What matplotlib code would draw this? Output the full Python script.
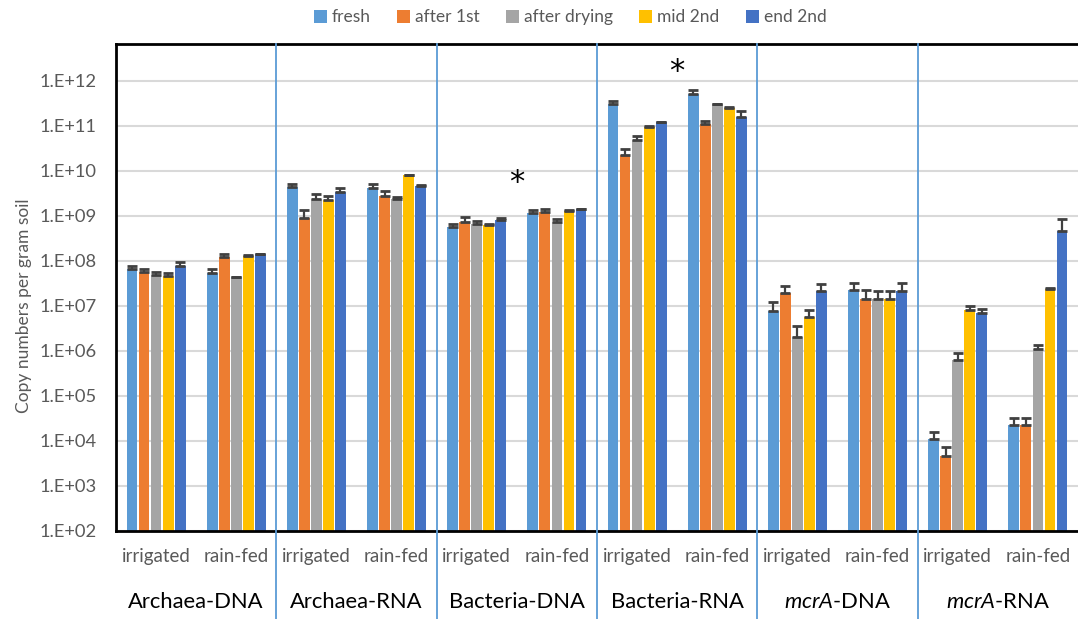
import matplotlib.pyplot as plt
import matplotlib.transforms as mtransforms
import numpy as np

plt.rcParams['font.family'] = ['Lato', 'DejaVu Sans']
plt.rcParams['mathtext.fontset'] = 'custom'
plt.rcParams['mathtext.rm'] = 'Lato'
plt.rcParams['mathtext.it'] = 'Lato:italic'

# series (sampling time points)
series = ['fresh', 'after 1st', 'after drying', 'mid 2nd', 'end 2nd']
colors = ['#5B9BD5', '#ED7D31', '#A5A5A5', '#FFC000', '#4472C4']

groups = ['Archaea-DNA', 'Archaea-RNA', 'Bacteria-DNA', 'Bacteria-RNA',
          r'$\mathit{mcrA}$-DNA', r'$\mathit{mcrA}$-RNA']
sites = ['irrigated', 'rain-fed']

# copy numbers per gram soil, one row per cluster (group x site), columns = series
values = np.array([
    [6.6e7, 5.6e7, 4.9e7, 4.7e7, 7.9e7],      # Archaea-DNA irrigated
    [5.4e7, 1.2e8, 4.3e7, 1.26e8, 1.4e8],     # Archaea-DNA rain-fed
    [4.3e9, 9.2e8, 2.4e9, 2.3e9, 3.4e9],      # Archaea-RNA irrigated
    [4.1e9, 2.8e9, 2.4e9, 8.0e9, 4.6e9],      # Archaea-RNA rain-fed
    [5.7e8, 7.4e8, 6.6e8, 6.3e8, 8.0e8],      # Bacteria-DNA irrigated
    [1.15e9, 1.2e9, 7.4e8, 1.27e9, 1.4e9],    # Bacteria-DNA rain-fed
    [3.1e11, 2.3e10, 4.9e10, 9.6e10, 1.2e11], # Bacteria-RNA irrigated
    [5.0e11, 1.1e11, 3.0e11, 2.5e11, 1.55e11],# Bacteria-RNA rain-fed
    [7.7e6, 1.9e7, 2.0e6, 5.8e6, 2.1e7],      # mcrA-DNA irrigated
    [2.3e7, 1.46e7, 1.46e7, 1.46e7, 2.2e7],   # mcrA-DNA rain-fed
    [1.1e4, 4.6e3, 6.3e5, 8.1e6, 6.9e6],      # mcrA-RNA irrigated
    [2.3e4, 2.3e4, 1.1e6, 2.4e7, 4.7e8],      # mcrA-RNA rain-fed
])

# upper error (standard error)
errors = np.array([
    [1.3e7, 0.9e7, 0.7e7, 0.8e7, 1.4e7],
    [1.2e7, 2.1e7, 0.1e7, 0.6e7, 0.5e7],
    [0.9e9, 0.43e9, 0.7e9, 0.45e9, 0.7e9],
    [0.9e9, 0.7e9, 0.2e9, 0.3e9, 0.15e9],
    [0.9e8, 2.1e8, 1.3e8, 0.3e8, 1.1e8],
    [0.23e9, 0.25e9, 1.1e8, 0.05e9, 0.05e9],
    [0.5e11, 0.7e10, 1.1e10, 0.4e10, 0.05e11],
    [1.3e11, 0.16e11, 0.1e11, 0.1e11, 0.55e11],
    [4.6e6, 0.85e7, 1.5e6, 2.3e6, 0.9e7],
    [0.9e7, 0.84e7, 0.64e7, 0.64e7, 1.0e7],
    [0.45e4, 2.8e3, 2.6e5, 1.9e6, 1.8e6],
    [1.0e4, 0.9e4, 0.25e6, 0.1e7, 3.8e8],
])

# significance markers: (group index, height)
stars = [(2, 5.5e9), (3, 1.65e12)]

fig = plt.figure(figsize=(10.78, 6.19), dpi=100)
ax = fig.add_axes([0.1076, 0.1422, 0.8924, 0.7868])
ax.set_yscale('log')

n_clusters = values.shape[0]
x = np.arange(n_clusters)
step = 0.15
for j, name in enumerate(series):
    xs = x + (j - 2) * step
    ax.bar(xs, values[:, j], width=0.135, color=colors[j], label=name, zorder=2)
    ax.errorbar(xs, values[:, j], yerr=[np.zeros(n_clusters), errors[:, j]],
                fmt='none', ecolor='#404040', elinewidth=1.6, capsize=3.5,
                capthick=2, zorder=3)

ax.set_ylim(1e2, 10 ** 12.82)
ax.set_xlim(-0.5, n_clusters - 0.5)
ax.set_yticks([10.0 ** k for k in range(2, 13)])
ax.set_yticklabels(['1.E+%02d' % k for k in range(2, 13)])
ax.minorticks_off()
ax.yaxis.grid(True, color='#D9D9D9', linewidth=1.5, zorder=0)
ax.set_axisbelow(True)
ax.tick_params(axis='y', length=0, labelsize=13.2, colors='#595959', pad=14)
ax.tick_params(axis='x', length=0)
ax.set_xticks([])

for s in ['left', 'top', 'bottom']:
    ax.spines[s].set_linewidth(2)
    ax.spines[s].set_color('black')
ax.spines['right'].set_visible(False)

ax.set_ylabel('Copy numbers per gram soil', fontsize=12.5, color='#595959')
ax.yaxis.set_label_coords(-0.087, 0.462)

trans = mtransforms.blended_transform_factory(ax.transData, ax.transAxes)
# group separators
for k in range(1, len(groups)):
    ax.plot([2 * k - 0.5, 2 * k - 0.5], [1, -0.19], transform=trans,
            color='#5B9BD5', linewidth=1.3, clip_on=False, zorder=4)

for i in range(n_clusters):
    ax.text(i, -0.053, sites[i % 2], transform=trans, ha='center', va='center',
            fontsize=13.5, color='#595959')
for k, g in enumerate(groups):
    ax.text(2 * k + 0.5, -0.146, g, transform=trans, ha='center', va='center',
            fontsize=15.8, color='black')

for k, h in stars:
    ax.text(2 * k + 0.5, h, '*', ha='center', va='center', fontsize=22,
            family='DejaVu Sans', color='black')

fig.legend(loc='center', bbox_to_anchor=(0.529, 0.972), ncol=5, frameon=False,
           fontsize=12.5, handlelength=0.75, handleheight=0.75, handletextpad=0.3,
           columnspacing=1.5, labelcolor='#595959')

fig.savefig('out.png', dpi=100)
